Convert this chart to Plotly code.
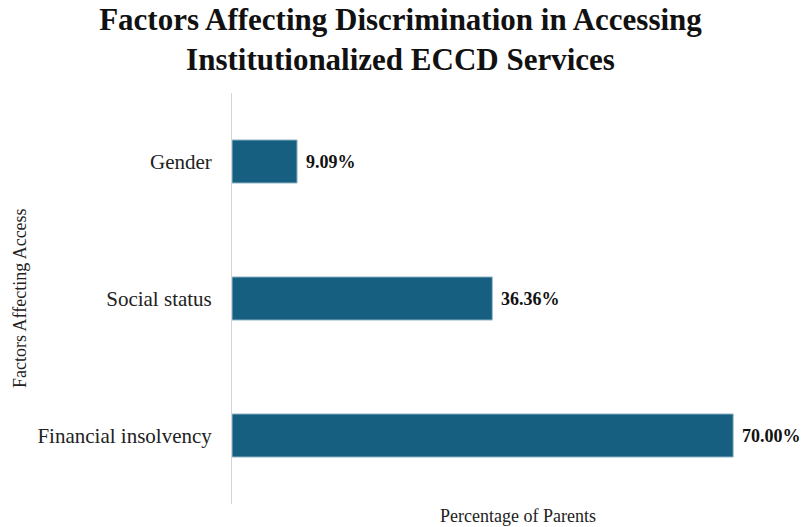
import plotly.graph_objects as go

# Survey results: share of parents citing each factor
factors = ["Financial insolvency", "Social status", "Gender"]
percentages = [70.00, 36.36, 9.09]

bar_color = "#175f80"
serif = "Liberation Serif, Times New Roman, serif"

W, H = 801, 527
L, R, T, B = 232, 32, 93, 23
pw, ph = W - L - R, H - T - B


def px_to_paper(x_px, y_px):
    return (x_px - L) / pw, (H - B - y_px) / ph


fig = go.Figure()
fig.add_trace(go.Bar(
    x=percentages,
    y=factors,
    orientation="h",
    width=0.315,
    marker=dict(color=bar_color, line=dict(color="#9fbfd0", width=1)),
    hoverinfo="skip",
))

# Value labels just past the end of each bar
for f, p in zip(factors, percentages):
    fig.add_annotation(
        x=p, y=f, xref="x", yref="y",
        text=f"<b>{p:.2f}%</b>",
        showarrow=False, xanchor="left", xshift=7,
        font=dict(family=serif, size=18, color="#111111"),
    )

# Axis titles
xt, yt = px_to_paper(518, 516)
fig.add_annotation(
    x=xt, y=yt, xref="paper", yref="paper", text="Percentage of Parents",
    showarrow=False, xanchor="center", yanchor="middle",
    font=dict(family=serif, size=18, color="#222222"),
)
xt, yt = px_to_paper(20, 298)
fig.add_annotation(
    x=xt, y=yt, xref="paper", yref="paper", text="Factors Affecting Access",
    textangle=-90, showarrow=False, xanchor="center", yanchor="middle",
    font=dict(family=serif, size=18, color="#222222"),
)

fig.update_layout(
    width=W, height=H,
    margin=dict(l=L, r=R, t=T, b=B),
    plot_bgcolor="white", paper_bgcolor="white",
    showlegend=False,
    title=dict(
        text="<b>Factors Affecting Discrimination in Accessing<br>Institutionalized ECCD Services</b>",
        x=0.5, xref="container", xanchor="center",
        y=1 - 30 / H, yref="container", yanchor="middle",
        font=dict(family=serif, size=31, color="#111111"),
    ),
    xaxis=dict(
        range=[0, 75], showticklabels=False, showgrid=False,
        zeroline=False, showline=False, ticks="",
    ),
    yaxis=dict(
        categoryorder="array", categoryarray=factors,
        showgrid=False, zeroline=False,
        showline=True, linecolor="#d4d4d4", linewidth=1,
        ticks="", ticklabelstandoff=15,
        tickfont=dict(family=serif, size=21, color="#222222"),
    ),
)

fig.write_html("out.html")
